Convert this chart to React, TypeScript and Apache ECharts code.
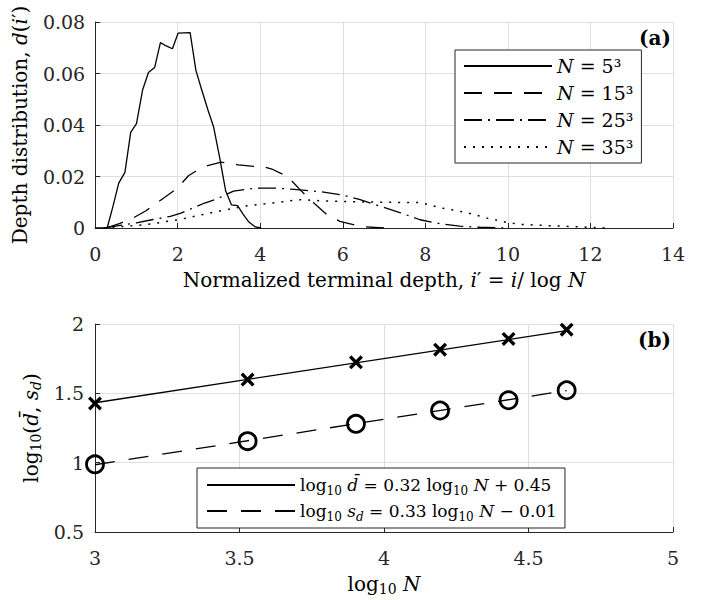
import React, { useEffect, useRef } from 'react';
import * as echarts from 'echarts';

const FONT = '"DejaVu Serif", "Liberation Serif", serif';
const FS = 19;
const TXT = '#262626';
const GRIDC = '#dfdfdf';

// ---------- Panel (a): depth distributions ----------
const n5X = [0, 0.29, 0.43, 0.57, 0.72, 0.86, 1.0, 1.15, 1.29, 1.44, 1.58, 1.72, 1.87, 2.01, 2.15, 2.3, 2.44, 2.58, 2.73, 2.87, 3.01, 3.16, 3.3, 3.45, 3.59, 3.73, 3.88, 4.02];
const n5Y = [0, 0, 0.0084, 0.0174, 0.0216, 0.0371, 0.0405, 0.0537, 0.0604, 0.0623, 0.072, 0.0707, 0.0696, 0.0757, 0.0758, 0.0759, 0.0612, 0.0537, 0.0459, 0.0392, 0.0278, 0.0145, 0.009, 0.0087, 0.0052, 0.0022, 0.0004, 0];

const n15X = [0.26, 0.6, 0.92, 1.22, 1.62, 1.98, 2.26, 2.5, 2.67, 3.05, 3.3, 3.47, 3.84, 4.0, 4.28, 4.66, 4.98, 5.21, 5.61, 5.93, 6.42, 7.0];
const n15Y = [0, 0.0018, 0.0039, 0.0066, 0.0112, 0.0153, 0.0203, 0.0227, 0.024, 0.0256, 0.025, 0.0245, 0.0239, 0.0242, 0.0229, 0.02, 0.0146, 0.011, 0.0052, 0.0026, 0.0006, 0];

const n25X = [0.22, 0.6, 1.0, 1.4, 1.82, 2.08, 2.65, 2.95, 3.35, 3.68, 4.0, 4.36, 4.75, 5.45, 6.0, 6.42, 6.9, 7.38, 7.87, 8.35, 8.83, 9.32, 10.0];
const n25Y = [0, 0.001, 0.002, 0.0033, 0.0045, 0.0058, 0.0097, 0.0113, 0.0143, 0.0151, 0.0155, 0.0155, 0.0151, 0.0141, 0.0128, 0.011, 0.0085, 0.006, 0.0032, 0.0017, 0.0007, 0.0003, 0];

const n35X = [0.2, 0.6, 1.22, 2.02, 2.83, 3.63, 4.36, 4.95, 5.7, 6.58, 7.38, 7.87, 8.35, 9.0, 9.48, 9.96, 10.29, 11.0, 11.8, 12.4];
const n35Y = [0, 0.0005, 0.0013, 0.0032, 0.006, 0.0085, 0.0098, 0.011, 0.0104, 0.0101, 0.0099, 0.0099, 0.0079, 0.006, 0.0039, 0.0022, 0.0014, 0.0009, 0.0004, 0];

const depthNames = ['N = 5³', 'N = 15³', 'N = 25³', 'N = 35³'];

// ---------- Panel (b): log-log fits ----------
const logN = [3, 3.528, 3.903, 4.194, 4.431, 4.632];
const logDbar = [1.427, 1.599, 1.724, 1.815, 1.892, 1.959];
const logSd = [0.988, 1.155, 1.28, 1.376, 1.45, 1.522];
const fitX = [3, 4.632];
const fitDbar = [1.432, 1.952];
const fitSd = [0.985, 1.52];
const fitNames = ['fitDbar', 'fitSd'];
const fitLabels: Record<string, string> = {
  fitDbar: 'log{sub|10} {i|d\u0304} = 0.32 log{sub|10} {i|N} + 0.45',
  fitSd: 'log{sub|10} {i|s}{isub|d} = 0.33 log{sub|10} {i|N} \u2212 0.01',
};

const pairs = (xs: number[], ys: number[]) => xs.map((x, k) => [x, ys[k]]);

const makeRich = (fs: number, lh: number, sfs: number) => ({
  i: { fontStyle: 'italic', fontFamily: FONT, fontSize: fs, color: '#000', lineHeight: lh },
  sub: { fontFamily: FONT, fontSize: sfs, color: '#000', lineHeight: lh / 2, verticalAlign: 'bottom' },
  isub: { fontFamily: FONT, fontStyle: 'italic', fontSize: sfs, color: '#000', lineHeight: lh / 2, verticalAlign: 'bottom' },
});

const CROSS = 'path://M1.7,0 L5,3.3 L8.3,0 L10,1.7 L6.7,5 L10,8.3 L8.3,10 L5,6.7 L1.7,10 L0,8.3 L3.3,5 L0,1.7 Z';

function axisBase() {
  return {
    axisLine: { show: true, lineStyle: { color: TXT, width: 1 } },
    axisTick: { show: true, inside: true, length: 5, lineStyle: { color: TXT } },
    splitLine: { show: true, lineStyle: { color: GRIDC, width: 1 } },
    nameTextStyle: { fontFamily: FONT, fontSize: 20, color: '#000', lineHeight: 24, rich: makeRich(20, 24, 14) },
  };
}
const tickLabel = (margin: number, extra: any = {}) => ({ fontFamily: FONT, fontSize: FS, color: TXT, margin, ...extra });

export default function App() {
  const ref = useRef<HTMLDivElement>(null);
  useEffect(() => {
    document.body.style.margin = '0';
    if (!ref.current) return;
    const chart = echarts.init(ref.current, null, { renderer: 'svg' });
    const lineStyles = [
      { type: 'solid', width: 1.3 },
      { type: [18, 12], width: 1.3 },
      { type: [18, 6, 2, 6], width: 1.3 },
      { type: [2, 7], width: 1.5 },
    ];
    const depthData = [pairs(n5X, n5Y), pairs(n15X, n15Y), pairs(n25X, n25Y), pairs(n35X, n35Y)];
    const legendCommon = {
      orient: 'vertical', itemWidth: 88, itemHeight: 14, backgroundColor: '#fff', borderColor: TXT, borderWidth: 1,
      selectedMode: false, itemStyle: { color: 'rgba(0,0,0,0)', borderWidth: 0, opacity: 0 },
    };
    const option: any = {
      animation: false,
      backgroundColor: '#fff',
      title: [
        { text: '(a)', right: 40, top: 28, padding: 0, textStyle: { fontFamily: FONT, fontWeight: 'bold', fontSize: 20, color: '#000' } },
        { text: '(b)', right: 40, top: 330, padding: 0, textStyle: { fontFamily: FONT, fontWeight: 'bold', fontSize: 20, color: '#000' } },
      ],
      grid: [
        { left: 95, top: 22, width: 578, height: 206 },
        { left: 95, top: 324, width: 578, height: 208 },
      ],
      xAxis: [
        {
          ...axisBase(), type: 'value', gridIndex: 0, min: 0, max: 14, interval: 2,
          name: 'Normalized terminal depth, {i|i}\u2032 = {i|i}/ log {i|N}', nameLocation: 'middle', nameGap: 40,
          axisLabel: tickLabel(16),
        },
        {
          ...axisBase(), type: 'value', gridIndex: 1, min: 3, max: 5, interval: 0.5,
          name: 'log{sub|10} {i|N}', nameLocation: 'middle', nameGap: 40,
          axisLabel: tickLabel(16),
        },
      ],
      yAxis: [
        {
          ...axisBase(), type: 'value', gridIndex: 0, min: 0, max: 0.08, interval: 0.02,
          name: 'Depth distribution, {i|d}({i|i}\u2032)', nameLocation: 'middle', nameGap: 57,
          axisLabel: tickLabel(10, { formatter: (v: number) => (v === 0 ? '0' : v.toFixed(2)) }),
        },
        {
          ...axisBase(), type: 'value', gridIndex: 1, min: 0.5, max: 2, interval: 0.5,
          name: 'log{sub|10}({i|d\u0304}, {i|s}{isub|d})', nameLocation: 'middle', nameGap: 50,
          axisLabel: tickLabel(11),
        },
      ],
      legend: [
        {
          ...legendCommon, left: 455, top: 50, padding: [4, 8, 4, 8], itemGap: 3, data: depthNames,
          formatter: (name: string) => '{i|N}' + name.slice(1),
          textStyle: { fontFamily: FONT, fontSize: FS, color: '#000', lineHeight: 24, rich: makeRich(FS, 24, 13) },
        },
        {
          ...legendCommon, left: 197, top: 468, padding: [5, 8, 5, 9], itemGap: 2, data: fitNames,
          formatter: (name: string) => fitLabels[name],
          textStyle: { fontFamily: FONT, fontSize: 17, color: '#000', lineHeight: 24, rich: makeRich(17, 24, 12) },
        },
      ],
      series: [
        ...depthNames.map((nm, k) => ({
          name: nm, type: 'line', xAxisIndex: 0, yAxisIndex: 0, data: depthData[k],
          symbol: 'none', showSymbol: false, color: '#000', lineStyle: { color: '#000', ...lineStyles[k] },
        })),
        {
          name: 'fitDbar', type: 'line', xAxisIndex: 1, yAxisIndex: 1, data: pairs(fitX, fitDbar),
          symbol: 'none', showSymbol: false, color: '#000', lineStyle: { color: '#000', width: 1.3, type: 'solid' },
        },
        {
          name: 'fitSd', type: 'line', xAxisIndex: 1, yAxisIndex: 1, data: pairs(fitX, fitSd),
          symbol: 'none', showSymbol: false, color: '#000', lineStyle: { color: '#000', width: 1.3, type: [20, 14] },
        },
        {
          name: 'dbar', type: 'scatter', xAxisIndex: 1, yAxisIndex: 1, data: pairs(logN, logDbar),
          symbol: CROSS, symbolSize: 14, itemStyle: { color: '#000', opacity: 1 }, z: 5,
        },
        {
          name: 'sd', type: 'scatter', xAxisIndex: 1, yAxisIndex: 1, data: pairs(logN, logSd),
          symbol: 'circle', symbolSize: 17, itemStyle: { color: 'rgba(0,0,0,0)', borderColor: '#000', borderWidth: 2.8, opacity: 1 }, z: 5,
        },
      ],
    };
    chart.setOption(option);
    return () => chart.dispose();
  }, []);
  return <div ref={ref} style={{ width: 711, height: 600 }} />;
}
